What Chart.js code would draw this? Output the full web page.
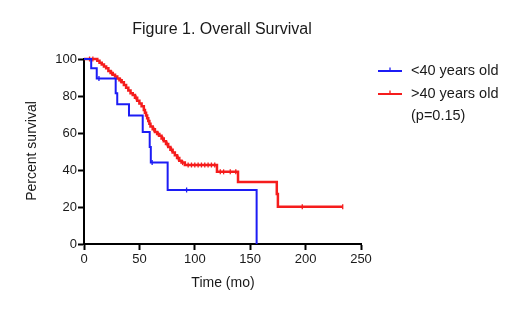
<!DOCTYPE html>
<html><head><meta charset="utf-8">
<script src="https://cdn.jsdelivr.net/npm/chart.js@4"></script>
<style>html,body{margin:0;padding:0;background:#fff}canvas{display:block}</style>
</head><body>
<canvas id="c" width="520" height="310"></canvas>
<script>
const chartTitle = "Figure 1. Overall Survival";
const xAxisTitle = "Time (mo)";
const yAxisTitle = "Percent survival";
const seriesNames = ["<40 years old", ">40 years old"];
const pValueText = "(p=0.15)";
const xTickValues = [0, 50, 100, 150, 200, 250];
const yTickValues = [0, 20, 40, 60, 80, 100];

// <40 years old: Kaplan-Meier steps (time in months, percent surviving after the step)
const youngTimes = [0, 6.5, 11.5, 28.6, 30, 40.6, 53, 59.3, 60.3, 75.5, 155.8];
const youngSurv  = [100, 95, 89.5, 81.5, 75.5, 69.5, 60.5, 52.5, 44, 29.2, 0];
const youngCensorTimes = [13.5, 61.5, 92.6];
const youngCensorSurv  = [89.5, 44, 29.2];

// >40 years old
const oldTimes = [0, 12, 14, 16, 18, 20, 22, 24, 26, 28, 30, 32, 34, 36, 38, 40, 42, 44, 46, 48, 50, 52, 54, 55, 56, 57, 58, 59, 60, 62, 64, 66, 68, 70, 72, 74, 76, 78, 80, 82, 84, 86, 88, 91, 120, 139, 174, 175, 233.5];
const oldSurv  = [100, 99, 98, 97, 96, 95, 93.5, 92.5, 91.5, 90.5, 89.5, 88.5, 87.5, 86, 84.5, 83, 81.5, 80.5, 79, 77.5, 76, 74.5, 72.5, 71, 69.5, 68, 66.5, 65, 63.5, 62, 60.5, 59.5, 58.5, 57, 55.5, 54, 52.5, 51, 49.5, 48, 46.5, 45, 44, 42.7, 39, 33.5, 27, 20.2, 20.2];
const oldCensorTimes = [5, 8, 25, 33, 47, 63, 67, 71, 75, 79, 85, 89, 94, 97, 100, 103, 106, 109, 112, 115, 118, 123, 126, 132, 137, 197, 233.5];
const oldCensorSurv  = [100, 100, 92.5, 88.5, 79, 62, 59.5, 57, 54, 51, 46.5, 44, 42.7, 42.7, 42.7, 42.7, 42.7, 42.7, 42.7, 42.7, 42.7, 39, 39, 39, 39, 20.2, 20.2];

const BLUE = '#1c1cf5';
const RED = '#f51c1c';
const FONT = '"Liberation Sans", Arial, Helvetica, sans-serif';

const pts = (xs, ys) => xs.map((x, i) => ({x, y: ys[i]}));

const textPlugin = {
  id: 'texts',
  afterDraw(chart) {
    const ctx = chart.ctx;
    ctx.save();
    ctx.fillStyle = '#1a1a1a';
    ctx.textAlign = 'center';
    ctx.textBaseline = 'middle';
    ctx.font = '16px ' + FONT;
    ctx.fillText(chartTitle, 222, 30);
    ctx.font = '14px ' + FONT;
    ctx.fillText(xAxisTitle, 223, 283);
    ctx.save();
    ctx.translate(32, 151);
    ctx.rotate(-Math.PI / 2);
    ctx.fillText(yAxisTitle, 0, 0);
    ctx.restore();
    // legend
    const items = [[BLUE, seriesNames[0], 71], [RED, seriesNames[1], 94]];
    ctx.textAlign = 'left';
    ctx.font = '14.5px ' + FONT;
    items.forEach(([col, label, y]) => {
      ctx.strokeStyle = col;
      ctx.lineWidth = 2;
      ctx.beginPath();
      ctx.moveTo(378, y); ctx.lineTo(402, y);
      ctx.stroke();
      ctx.lineWidth = 1.3;
      ctx.beginPath();
      ctx.moveTo(390, y - 3.5); ctx.lineTo(390, y);
      ctx.stroke();
      ctx.fillStyle = '#1a1a1a';
      ctx.fillText(label, 411, y);
    });
    ctx.fillText(pValueText, 411, 116);
    ctx.restore();
  }
};

const axisCommon = {
  type: 'linear',
  border: {display: true, color: '#000', width: 2},
  grid: {drawOnChartArea: false, drawTicks: true, color: '#000', tickColor: '#000', tickLength: 6, tickWidth: 2},
  ticks: {color: '#1a1a1a', font: {size: 13, family: FONT}}
};

new Chart(document.getElementById('c'), {
  type: 'scatter',
  data: {
    datasets: [
      {label: seriesNames[0], data: pts(youngTimes, youngSurv), showLine: true, stepped: 'before',
       borderColor: BLUE, borderWidth: 2, pointRadius: 0, clip: false, order: 1},
      {label: seriesNames[1], data: pts(oldTimes, oldSurv), showLine: true, stepped: 'before',
       borderColor: RED, borderWidth: 2.5, pointRadius: 0, clip: false, order: 2},
      {data: pts(youngCensorTimes, youngCensorSurv), showLine: false, pointStyle: 'line', rotation: 90,
       pointRadius: 2.5, borderColor: BLUE, backgroundColor: BLUE, borderWidth: 1.3, clip: false, order: 0},
      {data: pts(oldCensorTimes, oldCensorSurv), showLine: false, pointStyle: 'line', rotation: 90,
       pointRadius: 2.5, borderColor: RED, backgroundColor: RED, borderWidth: 1.3, clip: false, order: 1}
    ]
  },
  options: {
    responsive: false,
    animation: false,
    events: [],
    layout: {padding: {top: 59, right: 159, bottom: 0, left: 0}},
    plugins: {legend: {display: false}, title: {display: false}, tooltip: {enabled: false}},
    scales: {
      x: Object.assign({}, axisCommon, {
        min: 0, max: 250,
        ticks: Object.assign({}, axisCommon.ticks, {padding: 2}),
        afterBuildTicks: s => { s.ticks = xTickValues.map(v => ({value: v})); },
        afterFit: s => { s.height = 66; }
      }),
      y: Object.assign({}, axisCommon, {
        min: 0, max: 100,
        ticks: Object.assign({}, axisCommon.ticks, {padding: 1}),
        afterBuildTicks: s => { s.ticks = yTickValues.map(v => ({value: v})); },
        afterFit: s => { s.width = 84; }
      })
    }
  },
  plugins: [textPlugin]
});
</script>
</body></html>
